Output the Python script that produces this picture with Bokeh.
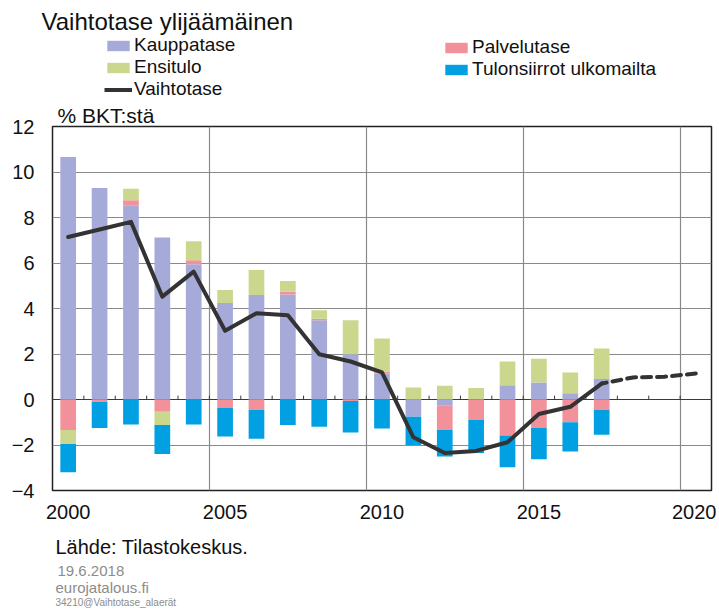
import numpy as np
from bokeh.plotting import figure
from bokeh.layouts import column
from bokeh.models import (ColumnDataSource, FixedTicker, Label, Legend, LegendItem,
                          Span, Range1d, Title)
from bokeh.embed import file_html
from bokeh.resources import INLINE

# ---------------- data (% of GDP) ----------------
years = list(range(2000, 2018))
kauppatase   = [10.66, 9.30, 8.54, 7.12, 5.94, 4.24, 4.59, 4.62, 3.48, 1.99, 1.14,
                -0.76, -0.27, 0.02, 0.63, 0.75, 0.27, 0.90]
palvelutase  = [-1.34, -0.10, 0.22, -0.54, 0.18, -0.37, -0.45, 0.12, 0.07, -0.07, 0.08,
                0.00, -1.07, -0.90, -1.58, -1.25, -1.00, -0.45]
ensitulo     = [-0.62, 0.00, 0.50, -0.58, 0.84, 0.57, 1.10, 0.47, 0.37, 1.49, 1.46,
                0.53, 0.60, 0.49, 1.04, 1.04, 0.92, 1.34]
tulonsiirrot = [-1.24, -1.15, -1.10, -1.28, -1.10, -1.26, -1.28, -1.12, -1.20, -1.38, -1.27,
                -1.24, -1.16, -1.45, -1.40, -1.38, -1.29, -1.10]
vaihtotase   = [7.14, 7.47, 7.81, 4.52, 5.62, 3.02, 3.79, 3.70, 1.99, 1.67, 1.19,
                -1.66, -2.35, -2.26, -1.88, -0.64, -0.32, 0.70]
ennuste_years = [2017, 2018, 2019, 2020]
ennuste       = [0.70, 0.97, 1.00, 1.14]

x_ticks = [2000, 2005, 2010, 2015, 2020]
y_ticks = [-4, -2, 0, 2, 4, 6, 8, 10, 12]

series_names  = ["Kauppatase", "Palvelutase", "Ensitulo", "Tulonsiirrot ulkomailta"]
series_values = [kauppatase, palvelutase, ensitulo, tulonsiirrot]
series_colors = ["#A5AAD9", "#F2919A", "#CBD78C", "#00A0E3"]
line_color = "#333333"

FONT = "Liberation Sans"
W = 716
TOP_H, MAIN_H, BOT_H = 101, 429, 80


def blank_fig(h):
    f = figure(width=W, height=h, title=None, x_range=Range1d(0, W),
               y_range=Range1d(h, 0), x_axis_location=None, y_axis_location=None,
               output_backend="svg", toolbar_location=None, min_border=0)
    f.frame_align = False
    f.grid.visible = False
    f.outline_line_color = None
    f.background_fill_color = "white"
    f.border_fill_color = "white"
    return f


def add_text(f, txt, x, y, size, color="#111111"):
    f.add_layout(Label(x=x, y=y, text=txt, text_font=FONT, text_font_size=size,
                       text_color=color, text_baseline="alphabetic", text_align="left"))


# ---------------- header: title + legend ----------------
top = blank_fig(TOP_H)
add_text(top, "Vaihtotase ylijäämäinen", 41, 21, "24px")
nan = np.array([np.nan])
dummy = {}
for name, col in zip(series_names, series_colors):
    dummy[name] = top.vbar(x=nan, top=nan, bottom=nan, width=0.5,
                           fill_color=col, line_color=None)
dummy_line = top.line(x=nan, y=nan, line_width=4, line_color=line_color)


def make_legend(items, x, y):
    return Legend(items=items, location=(x, y), orientation="vertical",
                  label_text_font=FONT, label_text_font_size="19px",
                  label_text_color="#111111",
                  glyph_width=28, glyph_height=13, label_standoff=2,
                  spacing=0, padding=0, margin=0, label_height=20,
                  border_line_color=None, background_fill_alpha=0)


top.add_layout(make_legend([
    LegendItem(label="Kauppatase", renderers=[dummy["Kauppatase"]]),
    LegendItem(label="Ensitulo", renderers=[dummy["Ensitulo"]]),
    LegendItem(label="Vaihtotase", renderers=[dummy_line])], 104, 1))
top.add_layout(make_legend([
    LegendItem(label="Palvelutase", renderers=[dummy["Palvelutase"]]),
    LegendItem(label="Tulonsiirrot ulkomailta",
               renderers=[dummy["Tulonsiirrot ulkomailta"]])], 442, 21))

# ---------------- main chart ----------------
p = figure(width=W, height=MAIN_H, title=None,
           x_range=Range1d(1999.5, 2020.5), y_range=Range1d(-4, 12),
           output_backend="svg", toolbar_location=None,
           min_border_left=52, min_border_right=5,
           min_border_top=24, min_border_bottom=40)
p.background_fill_color = "white"
p.border_fill_color = "white"
p.outline_line_color = "#222222"
p.outline_line_width = 1.5

p.add_layout(Title(text="% BKT:stä", align="left", offset=5, standoff=0,
                   vertical_align="bottom", text_font=FONT, text_font_size="21px",
                   text_font_style="normal", text_color="#111111"), "above")

p.ygrid.ticker = FixedTicker(ticks=y_ticks)
p.xgrid.ticker = FixedTicker(ticks=[t - 0.5 for t in x_ticks[1:]])
for g in (p.xgrid, p.ygrid):
    g.grid_line_color = "#8a8a8a"
    g.grid_line_width = 1.2

p.add_layout(Span(location=0, dimension="width", line_color="#3a3a3a",
                  line_width=1.2, level="underlay"))
bounds = [y + 0.5 for y in range(2000, 2020)]
p.segment(x0=bounds, y0=[0] * len(bounds), x1=bounds, y1=[0.17] * len(bounds),
          line_color="#3a3a3a", line_width=1)

pos = np.zeros(len(years))
neg = np.zeros(len(years))
for name, vals, col in zip(series_names, series_values, series_colors):
    v = np.array(vals, dtype=float)
    bottom = np.where(v >= 0, pos, neg + v)
    topv = np.where(v >= 0, pos + v, neg)
    pos = pos + np.where(v >= 0, v, 0)
    neg = neg + np.where(v < 0, v, 0)
    src = ColumnDataSource(dict(x=years, bottom=bottom, top=topv))
    p.vbar(x="x", bottom="bottom", top="top", width=0.5, source=src,
           fill_color=col, line_color=None)

p.line(years, vaihtotase, line_width=4, line_color=line_color,
       line_join="round", line_cap="round")
p.line(ennuste_years, ennuste, line_width=4, line_color=line_color,
       line_dash="9 6", line_dash_offset=4, line_cap="round")

p.xaxis.ticker = FixedTicker(ticks=x_ticks)
p.yaxis.ticker = FixedTicker(ticks=y_ticks)
for ax in (p.xaxis, p.yaxis):
    ax.axis_line_color = None
    ax.major_tick_line_color = None
    ax.minor_tick_line_color = None
    ax.major_tick_out = 0
    ax.major_tick_in = 0
    ax.major_label_text_font = FONT
    ax.major_label_text_font_size = "20px"
    ax.major_label_text_color = "#111111"
p.xaxis.major_label_standoff = 14
p.yaxis.major_label_standoff = 18

# ---------------- footer ----------------
bot = blank_fig(BOT_H)
add_text(bot, "Lähde: Tilastokeskus.", 55, 16, "20px")
add_text(bot, "19.6.2018", 57, 40.3, "15px", "#8c8c8c")
add_text(bot, "eurojatalous.fi", 55, 56.5, "15px", "#8c8c8c")
add_text(bot, "34210@Vaihtotase_alaerät", 55, 72, "10px", "#8c8c8c")

layout = column(top, p, bot, spacing=0)
open("out.html", "w").write(file_html(layout, INLINE))
